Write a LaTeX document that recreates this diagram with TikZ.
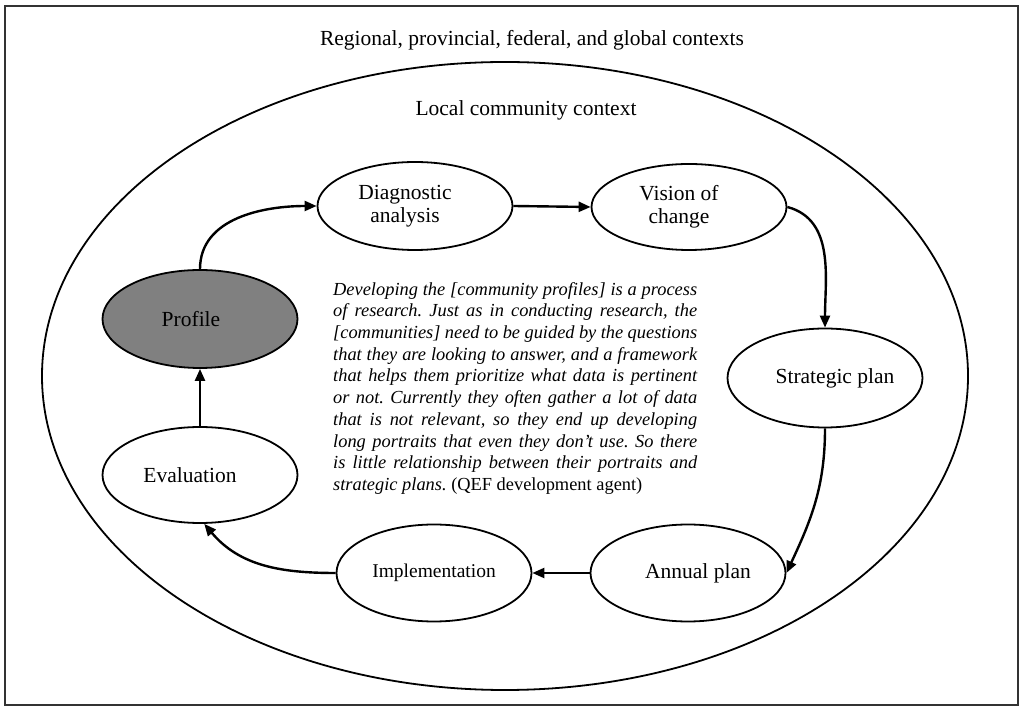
\documentclass[tikz,border=0pt]{standalone}
\usepackage{fontspec}
\setmainfont{Liberation Serif}
\usetikzlibrary{shapes.geometric,arrows.meta}
\begin{document}
\begin{tikzpicture}[x=1pt,y=1pt,
  stage/.style={ellipse,draw,line width=1.8pt,inner sep=0pt,minimum width=195pt,minimum height=97pt},
  lbl/.style={font=\fontsize{21.5}{23}\selectfont,align=center},
  flow/.style={line width=2.4pt,-{Triangle[length=12pt,width=10pt]}}
]
\useasboundingbox (0,0) rectangle (1024,709);
\draw[line width=2pt,black!80] (5,4) rectangle (1018,703);
\node[ellipse,draw,line width=1.8pt,minimum width=926pt,minimum height=628pt,inner sep=0pt] (ctx) at (505,333) {};
\node[lbl,anchor=base] (reg) at (532,663) {Regional, provincial, federal, and global contexts};
\node[lbl,anchor=base] (loc) at (526,593) {Local community context};

\node[stage,minimum height=88pt,label={[lbl,xshift=-10pt]center:Diagnostic\\analysis}] (diag) at (415,503) {};
\node[stage,minimum height=86pt,label={[lbl,xshift=-10pt]center:Vision of\\change}] (vis) at (689,502) {};
\node[stage,minimum height=99pt,label={[lbl,xshift=10pt]center:Strategic plan}] (strat) at (825,331) {};
\node[stage,label={[lbl,xshift=10pt]center:Annual plan}] (annual) at (688,136) {};
\node[stage,label={[lbl,font=\fontsize{19.5}{21}\selectfont]center:Implementation}] (impl) at (434,136) {};
\node[stage,minimum height=96pt,label={[lbl,xshift=-10pt]center:Evaluation}] (eval) at (200,234) {};
\node[stage,minimum height=98pt,fill=black!50,label={[lbl,xshift=-9pt]center:Profile}] (prof) at (200,390) {};

\node[anchor=north west,inner sep=0pt,text width=364pt,align=justify,
  font=\fontsize{18.4}{21.7}\selectfont\itshape\frenchspacing] (quote) at (333,427) {%
Developing the [community profiles] is a process\linebreak{}
of research. Just as in conducting research, the\linebreak{}
[communities] need to be guided by the questions\linebreak{}
that they are looking to answer, and a framework\linebreak{}
that helps them prioritize what data is pertinent\linebreak{}
or not. Currently they often gather a lot of data\linebreak{}
that is not relevant, so they end up developing\linebreak{}
long portraits that even they don’t use. So there\linebreak{}
is little relationship between their portraits and\linebreak{}
strategic plans. {\upshape (QEF development agent)}};

\draw[flow] (eval.north) -- (prof.south);
\draw[flow] (prof.north) to[out=90,in=180] (diag.west);
\draw[flow] (diag.east) -- (vis.west);
\draw[flow] (vis.east) to[out=-15,in=90] (strat.north);
\draw[flow] (strat.south) to[out=-90,in=65] (annual.east);
\draw[flow] (annual.west) -- (impl.east);
\draw[flow] (impl.west) to[out=180,in=-50] (eval.-85);
\end{tikzpicture}
\end{document}
